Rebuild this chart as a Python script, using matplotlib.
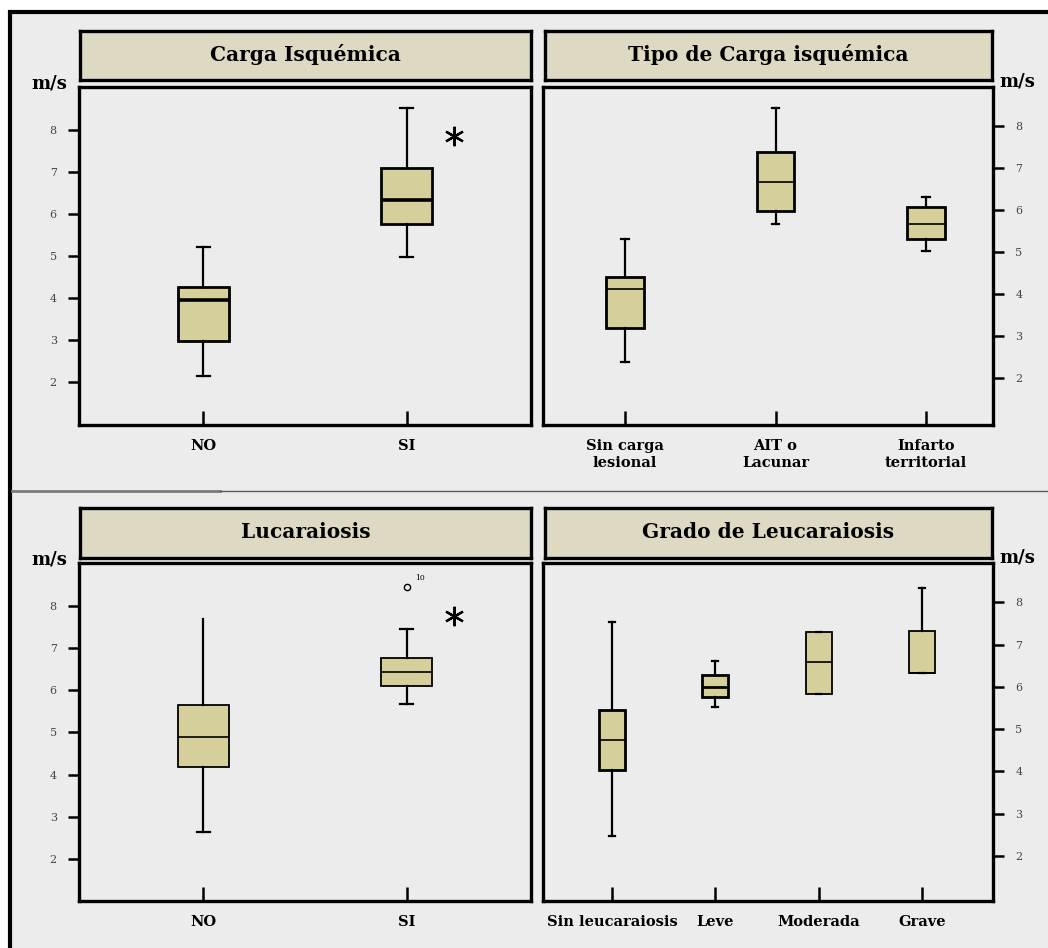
import matplotlib
matplotlib.use("Agg")
import matplotlib.pyplot as plt
from matplotlib.patches import Rectangle
from matplotlib.lines import Line2D

# ---------------- data ----------------
titles = ["Carga Isquémica", "Tipo de Carga isquémica", "Lucaraiosis", "Grado de Leucaraiosis"]

cats1 = ["NO", "SI"]
q1_1 = [2.98, 5.76]
med1 = [3.95, 6.33]
q3_1 = [4.26, 7.10]
lo1 = [2.14, 4.98]
hi1 = [5.21, 8.52]

cats2 = ["Sin carga\nlesional", "AIT o\nLacunar", "Infarto\nterritorial"]
q1_2 = [3.19, 5.98, 5.31]
med2 = [4.12, 6.67, 5.67]
q3_2 = [4.40, 7.38, 6.07]
lo2 = [2.38, 5.67, 5.02]
hi2 = [5.31, 8.43, 6.31]

cats3 = ["NO", "SI"]
q1_3 = [4.19, 6.11]
med3 = [4.90, 6.43]
q3_3 = [5.64, 6.76]
lo3 = [2.64, 5.67]
hi3 = [7.68, 7.45]
outlier3_value = 8.46
outlier3_label = "10"

cats4 = ["Sin leucaraiosis", "Leve", "Moderada", "Grave"]
q1_4 = [4.03, 5.76, 5.82, 6.32]
med4 = [4.74, 5.99, 6.58, 6.32]
q3_4 = [5.46, 6.29, 7.30, 7.33]
lo4 = [2.46, 5.53, 5.82, 6.32]
hi4 = [7.54, 6.61, 7.30, 8.35]

star1_value = 7.86
star3_value = 7.76

yticks = [2, 3, 4, 5, 6, 7, 8]
unit_label = "m/s"

# ---------------- styling ----------------
W, H = 1048, 948
BG = "#ececec"
TITLE_BG = "#ddd9c3"
BOX_FC = "#d4cf9b"
SERIF = ["DejaVu Serif"]

fig = plt.figure(figsize=(W / 100, H / 100), dpi=100)
fig.patch.set_facecolor("white")

# outer frame
fig.patches.append(Rectangle((10 / W, -0.05), 1.1, 1 - 12 / H + 0.05,
                             transform=fig.transFigure, facecolor=BG,
                             edgecolor="black", linewidth=3.0, zorder=-10))
# separator
fig.lines.append(Line2D([12 / W, 220 / W], [1 - 491 / H] * 2, transform=fig.transFigure,
                        color="#7a7a7a", linewidth=2.0))
fig.lines.append(Line2D([220 / W, 1.0], [1 - 491 / H] * 2, transform=fig.transFigure,
                        color="#5a5a5a", linewidth=1.0))


def px_rect(x0, y0, x1, y1):
    return [x0 / W, 1 - y1 / H, (x1 - x0) / W, (y1 - y0) / H]


def make_stats(q1, med, q3, lo, hi):
    return [dict(q1=a, med=b, q3=c, whislo=d, whishi=e, fliers=[])
            for a, b, c, d, e in zip(q1, med, q3, lo, hi)]


def title_box(rect, text):
    tax = fig.add_axes(rect)
    tax.set_facecolor(TITLE_BG)
    tax.set_xticks([])
    tax.set_yticks([])
    for s in tax.spines.values():
        s.set_linewidth(2.4)
    tax.text(0.5, 0.52, text, ha="center", va="center", fontsize=14.5,
             fontweight="bold", family=SERIF, transform=tax.transAxes)


def panel(rect, cats, stats, xlim, ylim, right=False, capw=0.06,
          box_lw=None, med_lw=None):
    ax = fig.add_axes(rect)
    ax.set_facecolor(BG)
    n = len(cats)
    pos = list(range(n))
    res = ax.bxp(stats, positions=pos, widths=0.25, patch_artist=True,
                 showfliers=False, capwidths=capw, manage_ticks=False,
                 boxprops=dict(facecolor=BOX_FC, edgecolor="black", linewidth=2.0),
                 whiskerprops=dict(color="black", linewidth=1.6),
                 capprops=dict(color="black", linewidth=1.6),
                 medianprops=dict(color="black", linewidth=1.2))
    if box_lw is not None:
        for b, lw in zip(res["boxes"], box_lw):
            b.set_linewidth(lw)
    if med_lw is not None:
        for m, lw in zip(res["medians"], med_lw):
            m.set_linewidth(lw)
    ax.set_xlim(*xlim)
    ax.set_ylim(*ylim)
    for s in ax.spines.values():
        s.set_linewidth(2.4)
    ax.set_yticks(yticks)
    ax.set_yticklabels([str(t) for t in yticks], family=SERIF, fontsize=8, color="#444444")
    if right:
        ax.yaxis.tick_right()
    ax.tick_params(axis="y", direction="out", length=8, width=1.8, pad=8)
    ax.set_xticks(pos)
    ax.set_xticklabels(cats, family=SERIF, fontsize=10.5, fontweight="bold",
                       linespacing=1.25)
    ax.tick_params(axis="x", direction="in", length=10, width=1.8, pad=10)
    return ax, res


# Panel 1
title_box(px_rect(80, 31, 531, 80), titles[0])
ax1, r1 = panel(px_rect(79, 87, 531, 425), cats1, make_stats(q1_1, med1, q3_1, lo1, hi1),
                (-0.61, 1.61), (0.98, 9.02), capw=0.065, med_lw=[2.6, 2.6])
ax1.plot([1.23], [star1_value], marker=(6, 2, 0), markersize=14, color="black",
         markeredgewidth=1.6, linestyle="none")
fig.text(49 / W, 1 - 84 / H, unit_label, ha="center", va="center", fontsize=13,
         fontweight="bold", family=SERIF)

# Panel 2
title_box(px_rect(545, 31, 992, 80), titles[1])
ax2, r2 = panel(px_rect(543, 87, 993, 425), cats2, make_stats(q1_2, med2, q3_2, lo2, hi2),
                (-0.545, 2.445), (0.88, 8.93), right=True, capw=0.05)
fig.text(1017 / W, 1 - 82 / H, unit_label, ha="center", va="center", fontsize=13,
         fontweight="bold", family=SERIF)

# Panel 3
title_box(px_rect(80, 508, 531, 558), titles[2])
ax3, r3 = panel(px_rect(79, 563, 531, 901), cats3, make_stats(q1_3, med3, q3_3, lo3, hi3),
                (-0.61, 1.61), (1.0, 9.02), capw=0.065, box_lw=[1.3, 1.3])
r3["caps"][1].set_visible(False)
ax3.plot([1.0], [outlier3_value], marker="o", markersize=4.5, markerfacecolor="none",
         markeredgecolor="black", markeredgewidth=1.0, linestyle="none")
ax3.text(1.04, outlier3_value + 0.2, outlier3_label, fontsize=5.5, family=SERIF,
         ha="left", va="center")
ax3.plot([1.23], [star3_value], marker=(6, 2, 0), markersize=14, color="black",
         markeredgewidth=1.6, linestyle="none")
fig.text(49 / W, 1 - 560 / H, unit_label, ha="center", va="center", fontsize=13,
         fontweight="bold", family=SERIF)

# Panel 4
title_box(px_rect(545, 508, 992, 558), titles[3])
ax4, r4 = panel(px_rect(543, 563, 993, 901), cats4, make_stats(q1_4, med4, q3_4, lo4, hi4),
                (-0.668, 3.688), (0.93, 8.93), right=True, capw=0.055,
                box_lw=[2.0, 2.0, 1.3, 1.3], med_lw=[1.2, 2.0, 1.2, 1.2])
fig.text(1017 / W, 1 - 558 / H, unit_label, ha="center", va="center", fontsize=13,
         fontweight="bold", family=SERIF)

fig.savefig("out.png", dpi=100)
